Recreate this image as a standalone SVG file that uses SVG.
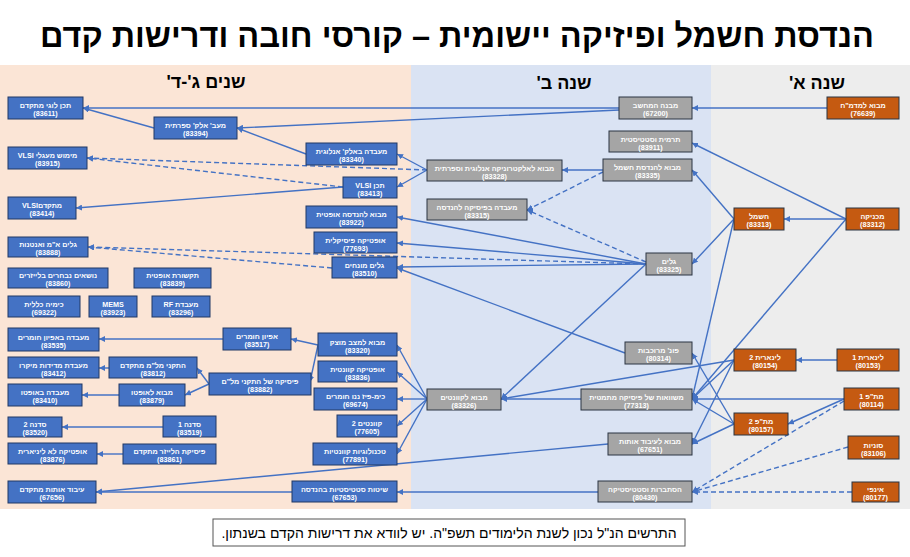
<svg xmlns="http://www.w3.org/2000/svg" width="910" height="557" viewBox="0 0 910 557">
<style>
.bgp{fill:#fbe5d6}.bgb{fill:#dae3f3}.bgg{fill:#ededed}
.o{fill:#c55a11;stroke:#2b3442;stroke-width:1}
.g{fill:#a5a5a5;stroke:#2b3442;stroke-width:1}
.b{fill:#4472c4;stroke:#203864;stroke-width:1}
text{font-family:"Liberation Sans",Arial,sans-serif;direction:rtl;text-anchor:middle}
.l{font-size:7.2px;fill:#fff;font-weight:bold}
.title{font-size:32.5px;font-weight:bold;fill:#000}
.hd{font-size:18px;font-weight:bold;fill:#000}
.note{font-size:14px;fill:#000}
.c{fill:none;stroke:#4472c4;stroke-width:1.4;marker-end:url(#ar)}
.d{stroke-dasharray:5,3}
</style>
<defs>
<marker id="ar" markerUnits="userSpaceOnUse" markerWidth="7" markerHeight="6" refX="6" refY="3" orient="auto"><path d="M0,0 L6,3 L0,6 z" fill="#4472c4"/></marker>
</defs>
<rect width="910" height="557" fill="#fff"/>
<rect class="bgp" x="0" y="65" width="411" height="444"/>
<rect class="bgb" x="411" y="65" width="300" height="444"/>
<rect class="bgg" x="711" y="65" width="199" height="444"/>
<text class="title" x="457" y="47">הנדסת חשמל ופיזיקה יישומית – קורסי חובה ודרישות קדם</text>
<text class="hd" x="206" y="88">שנים ג'-ד'</text>
<text class="hd" x="564" y="89">שנה ב'</text>
<text class="hd" x="817" y="89">שנה א'</text>
<g id="connectors">
<path class="c" d="M827,108 L692,108"/>
<path class="c" d="M846,219 L784,219"/>
<path class="c" d="M846,219 L692,143"/>
<path class="c" d="M846,219 L692,399"/>
<path class="c" d="M734,219 L692,170"/>
<path class="c" d="M734,219 L692,264"/>
<path class="c" d="M734,219 L692,399"/>
<path class="c" d="M837,360 L796,360"/>
<path class="c" d="M844,399 L788,424"/>
<path class="c" d="M844,399 L692,399"/>
<path class="c" d="M734,360 L501,399"/>
<path class="c" d="M734,360 L692,399"/>
<path class="c" d="M734,360 L692,444"/>
<path class="c" d="M734,424 L692,353"/>
<path class="c" d="M734,424 L692,399"/>
<path class="c" d="M734,424 L692,444"/>
<path class="c" d="M619,108 L83,108"/>
<path class="c" d="M619,110 L237,128"/>
<path class="c" d="M603,170 L562,170"/>
<path class="c" d="M427,170 L397,154"/>
<path class="c" d="M427,170 L397,187"/>
<path class="c" d="M306,154 L237,128"/>
<path class="c" d="M154,128 L83,108"/>
<path class="c" d="M343,187 L76,208"/>
<path class="c" d="M646,264 L397,217"/>
<path class="c" d="M646,264 L397,243"/>
<path class="c" d="M646,264 L397,267"/>
<path class="c" d="M646,264 L501,399"/>
<path class="c" d="M625,353 L397,268"/>
<path class="c" d="M581,399 L501,399"/>
<path class="c" d="M427,399 L397,345"/>
<path class="c" d="M427,399 L397,372"/>
<path class="c" d="M427,399 L397,399"/>
<path class="c" d="M427,399 L397,426"/>
<path class="c" d="M427,399 L397,454"/>
<path class="c" d="M318,345 L291,339"/>
<path class="c" d="M318,345 L310,382"/>
<path class="c" d="M223,339 L99,339"/>
<path class="c" d="M209,384 L197,368"/>
<path class="c" d="M209,384 L185,395"/>
<path class="c" d="M109,368 L99,368"/>
<path class="c" d="M119,395 L82,395"/>
<path class="c" d="M163,427 L62,427"/>
<path class="c" d="M123,454 L97,454"/>
<path class="c" d="M608,444 L96,492"/>
<path class="c" d="M598,492 L397,492"/>
<path class="c" d="M292,492 L96,492"/>
<path class="c d" d="M603,172 L527,210"/>
<path class="c d" d="M646,262 L527,210"/>
<path class="c d" d="M427,170 L87,158"/>
<path class="c d" d="M343,187 L87,158"/>
<path class="c d" d="M646,264 L88,247"/>
<path class="c d" d="M332,268 L88,247"/>
<path class="c d" d="M844,401 L692,492"/>
<path class="c d" d="M848,447 L692,492"/>
<path class="c d" d="M852,492 L692,492"/>
</g>
<g id="n76639"><rect class="o" x="827" y="97" width="72" height="22"/><text class="l" x="863" y="108.3">מבוא למדמ"ח</text><text class="l" x="863" y="116.3">(76639)</text></g>
<g id="n83313"><rect class="o" x="734" y="208" width="50" height="22"/><text class="l" x="759" y="219.3">חשמל</text><text class="l" x="759" y="227.3">(83313)</text></g>
<g id="n83312"><rect class="o" x="846" y="208" width="53" height="22"/><text class="l" x="872.5" y="219.3">מכניקה</text><text class="l" x="872.5" y="227.3">(83312)</text></g>
<g id="n80154"><rect class="o" x="734" y="349" width="62" height="22"/><text class="l" x="765" y="360.3">לינארית 2</text><text class="l" x="765" y="368.3">(80154)</text></g>
<g id="n80153"><rect class="o" x="837" y="349" width="62" height="22"/><text class="l" x="868" y="360.3">לינארית 1</text><text class="l" x="868" y="368.3">(80153)</text></g>
<g id="n80114"><rect class="o" x="844" y="388" width="55" height="22"/><text class="l" x="871.5" y="399.3">מת"פ 1</text><text class="l" x="871.5" y="407.3">(80114)</text></g>
<g id="n80157"><rect class="o" x="734" y="413" width="54" height="22"/><text class="l" x="761" y="424.3">מת"פ 2</text><text class="l" x="761" y="432.3">(80157)</text></g>
<g id="n83106"><rect class="o" x="848" y="436" width="51" height="23"/><text class="l" x="873.5" y="447.8">סוניות</text><text class="l" x="873.5" y="455.8">(83106)</text></g>
<g id="n80177"><rect class="o" x="852" y="482" width="47" height="20"/><text class="l" x="875.5" y="492.3">אינפי</text><text class="l" x="875.5" y="500.3">(80177)</text></g>
<g id="n67200"><rect class="g" x="619" y="97" width="73" height="22"/><text class="l" x="655.5" y="108.3">מבנה המחשב</text><text class="l" x="655.5" y="116.3">(67200)</text></g>
<g id="n83911"><rect class="g" x="609" y="131" width="83" height="21"/><text class="l" x="650.5" y="141.8">תרמית וסטטיסטית</text><text class="l" x="650.5" y="149.8">(83911)</text></g>
<g id="n83335"><rect class="g" x="603" y="159" width="89" height="22"/><text class="l" x="647.5" y="170.3">מבוא להנדסת חשמל</text><text class="l" x="647.5" y="178.3">(83335)</text></g>
<g id="n83328"><rect class="g" x="427" y="160" width="135" height="21"/><text class="l" x="494.5" y="170.8">מבוא לאלקטרוניקה אנלוגית וספרתית</text><text class="l" x="494.5" y="178.8">(83328)</text></g>
<g id="n83315"><rect class="g" x="427" y="199" width="100" height="21"/><text class="l" x="477" y="209.8">מעבדה בפיסיקה להנדסה</text><text class="l" x="477" y="217.8">(83315)</text></g>
<g id="n83325"><rect class="g" x="646" y="253" width="46" height="22"/><text class="l" x="669" y="264.3">גלים</text><text class="l" x="669" y="272.3">(83325)</text></g>
<g id="n80314"><rect class="g" x="625" y="342" width="67" height="22"/><text class="l" x="658.5" y="353.3">פונ' מרוכבות</text><text class="l" x="658.5" y="361.3">(80314)</text></g>
<g id="n83326"><rect class="g" x="427" y="389" width="74" height="21"/><text class="l" x="464" y="399.8">מבוא לקוונטים</text><text class="l" x="464" y="407.8">(83326)</text></g>
<g id="n77313"><rect class="g" x="581" y="389" width="111" height="21"/><text class="l" x="636.5" y="399.8">משוואות של פיסיקה מתמטית</text><text class="l" x="636.5" y="407.8">(77313)</text></g>
<g id="n67651"><rect class="g" x="608" y="433" width="84" height="22"/><text class="l" x="650" y="444.3">מבוא לעיבוד אותות</text><text class="l" x="650" y="452.3">(67651)</text></g>
<g id="n80430"><rect class="g" x="598" y="481" width="94" height="21"/><text class="l" x="645" y="491.8">הסתברות וסטטיסטיקה</text><text class="l" x="645" y="499.8">(80430)</text></g>
<g id="n83611"><rect class="b" x="8" y="97" width="75" height="22"/><text class="l" x="45.5" y="108.3">תכן לוגי מתקדם</text><text class="l" x="45.5" y="116.3">(83611)</text></g>
<g id="n83394"><rect class="b" x="154" y="117" width="83" height="22"/><text class="l" x="195.5" y="128.3">מעב' אלק' ספרתית</text><text class="l" x="195.5" y="136.3">(83394)</text></g>
<g id="n83915"><rect class="b" x="8" y="147" width="79" height="22"/><text class="l" x="47.5" y="158.3">מימוש מעגלי  VLSI</text><text class="l" x="47.5" y="166.3">(83915)</text></g>
<g id="n83414"><rect class="b" x="8" y="197" width="68" height="22"/><text class="l" x="42" y="208.3">מתקדםVLSI</text><text class="l" x="42" y="216.3">(83414)</text></g>
<g id="n83888"><rect class="b" x="8" y="237" width="80" height="20"/><text class="l" x="48" y="247.3">גלים א"מ ואנטנות</text><text class="l" x="48" y="255.3">(83888)</text></g>
<g id="n83340"><rect class="b" x="306" y="143" width="91" height="22"/><text class="l" x="351.5" y="154.3">מעבדה באלק' אנלוגית</text><text class="l" x="351.5" y="162.3">(83340)</text></g>
<g id="n83413"><rect class="b" x="343" y="177" width="54" height="21"/><text class="l" x="370" y="187.8">תכן VLSI</text><text class="l" x="370" y="195.8">(83413)</text></g>
<g id="n83922"><rect class="b" x="306" y="206" width="91" height="22"/><text class="l" x="351.5" y="217.3">מבוא להנדסה אופטית</text><text class="l" x="351.5" y="225.3">(83922)</text></g>
<g id="n77693"><rect class="b" x="314" y="232" width="83" height="21"/><text class="l" x="355.5" y="242.8">אופטיקה פיסיקלית</text><text class="l" x="355.5" y="250.8">(77693)</text></g>
<g id="n83510"><rect class="b" x="332" y="257" width="65" height="21"/><text class="l" x="364.5" y="267.8">גלים מונחים</text><text class="l" x="364.5" y="275.8">(83510)</text></g>
<g id="n83860"><rect class="b" x="8" y="268" width="100" height="20"/><text class="l" x="58" y="278.3">נושאים נבחרים בלייזרים</text><text class="l" x="58" y="286.3">(83860)</text></g>
<g id="n83839"><rect class="b" x="134" y="268" width="77" height="20"/><text class="l" x="172.5" y="278.3">תקשורת אופטית</text><text class="l" x="172.5" y="286.3">(83839)</text></g>
<g id="n69322"><rect class="b" x="8" y="296" width="72" height="21"/><text class="l" x="44" y="306.8">כימיה כללית</text><text class="l" x="44" y="314.8">(69322)</text></g>
<g id="n83923"><rect class="b" x="89" y="296" width="48" height="21"/><text class="l" x="113" y="306.8">MEMS</text><text class="l" x="113" y="314.8">(83923)</text></g>
<g id="n83296"><rect class="b" x="152" y="296" width="58" height="21"/><text class="l" x="181" y="306.8">מעבדת  RF</text><text class="l" x="181" y="314.8">(83296)</text></g>
<g id="n83535"><rect class="b" x="8" y="328" width="91" height="23"/><text class="l" x="53.5" y="339.8">מעבדה באפיון חומרים</text><text class="l" x="53.5" y="347.8">(83535)</text></g>
<g id="n83412"><rect class="b" x="8" y="357" width="91" height="21"/><text class="l" x="53.5" y="367.8">מעבדת מדידות מיקרו</text><text class="l" x="53.5" y="375.8">(83412)</text></g>
<g id="n83812"><rect class="b" x="109" y="357" width="88" height="21"/><text class="l" x="153" y="367.8">התקני מל"מ מתקדם</text><text class="l" x="153" y="375.8">(83812)</text></g>
<g id="n83410"><rect class="b" x="8" y="384" width="74" height="22"/><text class="l" x="45" y="395.3">מעבדה באופטו</text><text class="l" x="45" y="403.3">(83410)</text></g>
<g id="n83879"><rect class="b" x="119" y="384" width="66" height="22"/><text class="l" x="152" y="395.3">מבוא לאופטו</text><text class="l" x="152" y="403.3">(83879)</text></g>
<g id="n83520"><rect class="b" x="8" y="417" width="54" height="20"/><text class="l" x="35" y="427.3">סדנה 2</text><text class="l" x="35" y="435.3">(83520)</text></g>
<g id="n83519"><rect class="b" x="163" y="416" width="53" height="21"/><text class="l" x="189.5" y="426.8">סדנה 1</text><text class="l" x="189.5" y="434.8">(83519)</text></g>
<g id="n83876"><rect class="b" x="8" y="443" width="89" height="21"/><text class="l" x="52.5" y="453.8">אופטיקה לא ליניארית</text><text class="l" x="52.5" y="461.8">(83876)</text></g>
<g id="n83861"><rect class="b" x="123" y="444" width="93" height="20"/><text class="l" x="169.5" y="454.3">פיסיקת הלייזר מתקדם</text><text class="l" x="169.5" y="462.3">(83861)</text></g>
<g id="n67656"><rect class="b" x="8" y="481" width="88" height="22"/><text class="l" x="52" y="492.3">עיבוד אותות מתקדם</text><text class="l" x="52" y="500.3">(67656)</text></g>
<g id="n83517"><rect class="b" x="223" y="328" width="68" height="22"/><text class="l" x="257" y="339.3">אפיון חומרים</text><text class="l" x="257" y="347.3">(83517)</text></g>
<g id="n83320"><rect class="b" x="318" y="333" width="79" height="23"/><text class="l" x="357.5" y="344.8">מבוא למצב מוצק</text><text class="l" x="357.5" y="352.8">(83320)</text></g>
<g id="n83882"><rect class="b" x="209" y="373" width="102" height="22"/><text class="l" x="260" y="384.3">פיסיקה של התקני מל"ם</text><text class="l" x="260" y="392.3">(83882)</text></g>
<g id="n83836"><rect class="b" x="318" y="361" width="79" height="21"/><text class="l" x="357.5" y="371.8">אופטיקה קוונטית</text><text class="l" x="357.5" y="379.8">(83836)</text></g>
<g id="n69674"><rect class="b" x="314" y="388" width="83" height="22"/><text class="l" x="355.5" y="399.3">כימ-פיז ננו חומרים</text><text class="l" x="355.5" y="407.3">(69674)</text></g>
<g id="n77605"><rect class="b" x="337" y="415" width="60" height="22"/><text class="l" x="367" y="426.3">קוונטים 2</text><text class="l" x="367" y="434.3">(77605)</text></g>
<g id="n77891"><rect class="b" x="313" y="443" width="84" height="22"/><text class="l" x="355" y="454.3">טכנולוגיות קוונטיות</text><text class="l" x="355" y="462.3">(77891)</text></g>
<g id="n67653"><rect class="b" x="292" y="481" width="105" height="21"/><text class="l" x="344.5" y="491.8">שיטות סטטיסטיות בהנדסה</text><text class="l" x="344.5" y="499.8">(67653)</text></g>
<g id="note"><rect x="213" y="519" width="472" height="27" fill="#fff" stroke="#555" stroke-width="1"/><text class="note" x="449" y="538">התרשים הנ"ל נכון לשנת הלימודים תשפ"ה. יש לוודא את דרישות הקדם בשנתון.</text></g>
</svg>
